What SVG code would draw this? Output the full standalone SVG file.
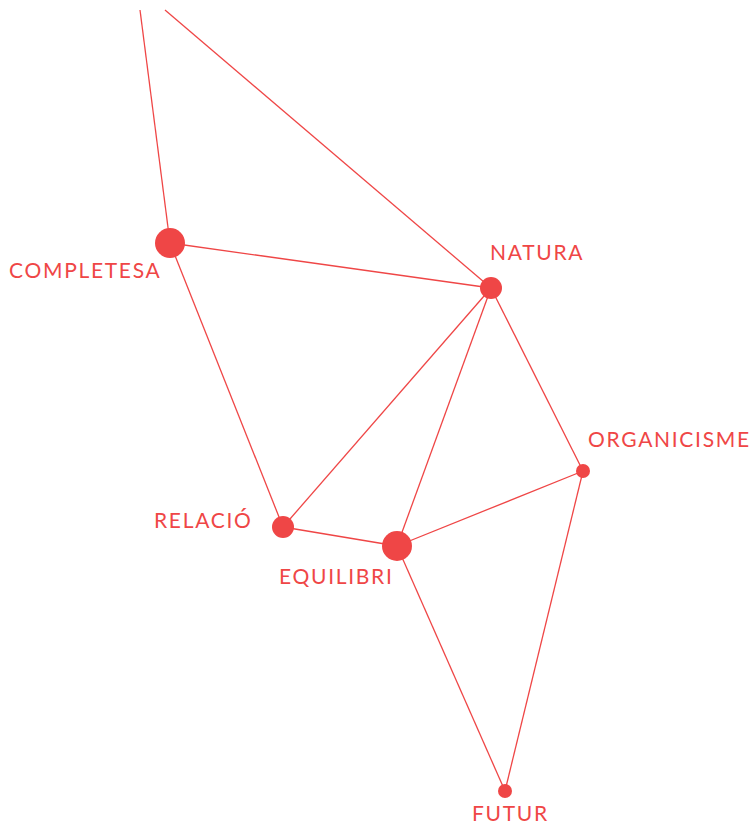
<svg xmlns="http://www.w3.org/2000/svg" width="753" height="826" viewBox="0 0 753 826">
<style>
.e{stroke:#ef4646;stroke-width:1.3;fill:none}
.n{fill:#ef4646}
.t{fill:#ef4646;font-family:"Lato","Liberation Sans",sans-serif;font-size:21px;letter-spacing:1.7px}
</style>
<rect width="753" height="826" fill="#fff"/>
<g id="edges">
<line class="e" x1="140" y1="10" x2="170" y2="243"/>
<line class="e" x1="165" y1="10" x2="491" y2="288"/>
<line class="e" x1="170" y1="243" x2="491" y2="288"/>
<line class="e" x1="170" y1="243" x2="283" y2="527"/>
<line class="e" x1="491" y1="288" x2="283" y2="527"/>
<line class="e" x1="491" y1="288" x2="397" y2="546"/>
<line class="e" x1="491" y1="288" x2="583" y2="471"/>
<line class="e" x1="283" y1="527" x2="397" y2="546"/>
<line class="e" x1="397" y1="546" x2="583" y2="471"/>
<line class="e" x1="397" y1="546" x2="505" y2="791"/>
<line class="e" x1="583" y1="471" x2="505" y2="791"/>
</g>
<g id="completesa"><circle class="n" cx="170" cy="243" r="15"/><text class="t" x="9" y="278">COMPLETESA</text></g>
<g id="natura"><circle class="n" cx="491" cy="288" r="11"/><text class="t" x="490" y="260">NATURA</text></g>
<g id="organicisme"><circle class="n" cx="583" cy="471" r="7"/><text class="t" x="588" y="447">ORGANICISME</text></g>
<g id="relacio"><circle class="n" cx="283" cy="527" r="11"/><text class="t" x="154" y="528">RELACIÓ</text></g>
<g id="equilibri"><circle class="n" cx="397" cy="546" r="15"/><text class="t" x="279" y="584">EQUILIBRI</text></g>
<g id="futur"><circle class="n" cx="505" cy="791" r="7"/><text class="t" x="472" y="821">FUTUR</text></g>
</svg>
